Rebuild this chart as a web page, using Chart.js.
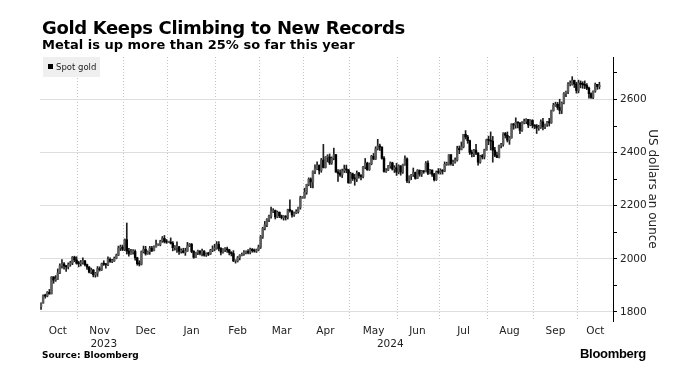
<!DOCTYPE html>
<html>
<head>
<meta charset="utf-8">
<script src="https://cdn.jsdelivr.net/npm/chart.js@4.4.1/dist/chart.umd.min.js"></script>
<style>
  html, body { margin: 0; padding: 0; background: #fff; }
  #wrap { position: relative; width: 687px; height: 379px; font-family: 'DejaVu Sans', sans-serif; color: #000; }
  #wrap canvas { position: absolute; left: 0; top: 0; }
  .title { position: absolute; left: 42px; top: 17px; font-size: 18px; line-height: 22px; font-weight: bold; letter-spacing: -0.35px; white-space: nowrap; }
  .subtitle { position: absolute; left: 42px; top: 37px; font-size: 13px; line-height: 16px; font-weight: bold; white-space: nowrap; }
  .legend { position: absolute; left: 43px; top: 57px; width: 57px; height: 20px; background: #efefef; font-size: 8.5px; line-height: 20px; color: #222; white-space: nowrap; }
  .legend .sw { display: inline-block; width: 5px; height: 5px; background: #000; margin: 0 3px 0 5px; vertical-align: middle; position: relative; top: -1px; }
  .source { position: absolute; left: 42px; top: 350px; font-size: 9px; line-height: 11px; font-weight: bold; }
  .brand { position: absolute; left: 580px; top: 346px; font-family: 'Liberation Sans', Arial, sans-serif; font-size: 13px; line-height: 15px; font-weight: bold; letter-spacing: -0.3px; }
</style>
</head>
<body>
<div id="wrap">
  <canvas id="chart" width="687" height="379"></canvas>
  <div class="title">Gold Keeps Climbing to New Records</div>
  <div class="subtitle">Metal is up more than 25% so far this year</div>
  <div class="legend"><span class="sw"></span>Spot gold</div>
  <div class="source">Source: Bloomberg</div>
  <div class="brand">Bloomberg</div>
</div>
<script>
// daily spot gold candles, one per weekday from 6 Oct 2023 to 15 Oct 2024 (USD/oz)
const firstDay = [2023, 9, 6];   // year, month (0-based), day
const axisSlots = 274;           // weekday slots on the axis, incl. a short empty margin on the right
const monthNames = ['Jan', 'Feb', 'Mar', 'Apr', 'May', 'Jun', 'Jul', 'Aug', 'Sep', 'Oct', 'Nov', 'Dec'];
const yTicks = [1800, 1900, 2000, 2100, 2200, 2300, 2400, 2500, 2600, 2700];

const opens = [
  1820,1833,1861,1860,1874,1868,1932,1920,1923,1947,1974,1981,1973,1970,1979,1985,2006,1996,
  1983,1982,1986,1992,1978,1969,1950,1958,1940,1946,1963,1959,1981,1980,1978,1998,1990,1992,2002,2014,2041,2044,
  2036,2072,2029,2019,2026,2028,2004,1982,1980,2027,2036,2019,2027,2040,2031,2045,2053,2053,2067,2077,2065,
  2063,2063,2059,2042,2043,2045,2028,2030,2024,2029,2049,2055,2028,2006,2023,2029,2021,2029,2014,2020,2018,2032,2037,
  2039,2054,2039,2025,2035,2035,2034,2024,2020,1992,1992,2004,2013,2017,2025,2025,2024,2036,2031,2029,2034,
  2044,2083,2114,2128,2148,2160,2179,2182,2158,2175,2162,2155,2160,2157,2186,2181,2165,2172,2178,2194,2230,
  2230,2251,2280,2300,2290,2330,2339,2352,2333,2372,2344,2383,2383,2361,2379,2392,2327,2322,2316,2332,2337,2335,
  2286,2320,2303,2301,2323,2314,2310,2346,2360,2336,2358,2386,2376,2414,2425,2421,2379,2329,2334,2350,2361,2338,2343,
  2327,2350,2327,2355,2376,2294,2311,2316,2325,2303,2333,2319,2330,2328,2360,2322,2334,2319,2298,2327,
  2326,2332,2330,2356,2356,2392,2359,2364,2372,2415,2411,2422,2469,2459,2445,2401,2396,2409,2398,2364,2387,2384,2410,
  2448,2446,2443,2409,2390,2382,2427,2431,2472,2465,2447,2456,2507,2504,2514,2512,2484,2512,2518,2525,2504,2521,
  2503,2500,2493,2495,2516,2497,2506,2516,2512,2558,2578,2582,2570,2559,2587,2622,2629,2657,2657,2672,2658,
  2634,2662,2657,2656,2653,2643,2622,2608,2631,2657,2649
];
const highs = [
  1834,1865,1867,1877,1885,1933,1933,1937,1962,1981,1997,1986,1976,1985,1991,2009,2010,2008,
  1991,1994,2004,1994,1980,1971,1965,1960,1949,1971,1970,1984,1993,1982,2008,2004,1998,2007,2018,2048,2052,2052,
  2075,2135,2040,2036,2035,2034,2006,1993,2030,2048,2047,2030,2047,2047,2049,2071,2056,2070,2084,2088,2073,
  2064,2079,2065,2050,2064,2047,2038,2040,2040,2062,2058,2058,2031,2025,2033,2031,2037,2031,2023,2025,2036,2049,2055,
  2065,2065,2042,2039,2042,2044,2036,2027,2031,1996,2009,2016,2022,2031,2030,2035,2041,2039,2037,2037,2052,
  2088,2119,2141,2152,2165,2195,2189,2184,2180,2177,2165,2163,2163,2187,2222,2182,2176,2185,2195,2236,2234,
  2266,2281,2305,2305,2331,2354,2365,2354,2378,2431,2385,2392,2395,2384,2417,2394,2336,2335,2338,2353,2353,2337,
  2326,2323,2318,2331,2326,2317,2348,2378,2364,2361,2390,2397,2422,2450,2432,2422,2385,2340,2352,2365,2364,2351,2360,
  2354,2351,2357,2388,2380,2313,2318,2342,2327,2336,2335,2333,2332,2366,2369,2337,2335,2322,2331,2340,
  2339,2336,2365,2364,2393,2393,2372,2380,2424,2425,2440,2469,2483,2465,2447,2410,2412,2431,2400,2390,2393,2413,2451,
  2462,2478,2461,2420,2402,2428,2435,2475,2476,2478,2461,2509,2510,2531,2515,2513,2517,2526,2528,2525,2524,2524,
  2505,2506,2503,2523,2529,2507,2518,2529,2560,2586,2590,2589,2601,2591,2626,2632,2664,2670,2686,2673,2665,
  2673,2670,2667,2670,2660,2647,2625,2633,2662,2657,2665
];
const lows = [
  1810,1833,1852,1857,1867,1868,1908,1915,1922,1944,1965,1961,1953,1962,1972,1978,1989,1980,
  1970,1973,1980,1973,1960,1947,1944,1932,1931,1934,1954,1956,1975,1965,1974,1987,1986,1990,2000,2012,2031,2031,
  2031,2018,2010,2017,2018,1995,1976,1973,1977,2022,2014,2017,2017,2027,2030,2044,2051,2049,2062,2060,2058,
  2062,2056,2030,2033,2024,2017,2021,2022,2013,2028,2046,2023,2002,2005,2016,2015,2011,2010,2009,2012,2016,2027,2030,
  2036,2030,2015,2021,2027,2024,2015,2011,1990,1984,1988,1996,2011,2013,2019,2019,2019,2025,2025,2024,2030,
  2039,2077,2109,2121,2140,2153,2174,2150,2155,2155,2150,2146,2146,2150,2176,2157,2160,2170,2172,2187,2228,
  2228,2243,2275,2268,2267,2321,2336,2319,2326,2342,2342,2365,2355,2356,2373,2325,2292,2310,2306,2325,2324,2285,
  2285,2295,2277,2291,2304,2297,2305,2339,2333,2333,2354,2373,2374,2410,2408,2375,2326,2325,2332,2341,2334,2325,2314,
  2320,2315,2322,2352,2287,2286,2298,2310,2300,2302,2311,2310,2322,2327,2317,2320,2310,2293,2295,2320,
  2319,2319,2328,2352,2353,2353,2351,2360,2368,2396,2410,2418,2451,2435,2393,2384,2385,2392,2353,2360,2376,2376,2409,
  2430,2410,2364,2385,2381,2380,2418,2424,2455,2440,2431,2454,2488,2492,2493,2471,2480,2508,2509,2494,2501,2493,
  2490,2472,2484,2491,2485,2490,2499,2500,2510,2556,2574,2562,2546,2547,2583,2611,2622,2651,2654,2645,2624,
  2625,2644,2642,2641,2637,2605,2604,2603,2627,2638,2640
];
const closes = [
  1833,1861,1860,1874,1868,1932,1920,1923,1947,1974,1981,1973,1970,1979,1985,2006,1996,1983,
  1982,1986,1992,1978,1969,1950,1958,1940,1946,1963,1959,1981,1980,1978,1998,1990,1992,2002,2014,2041,2044,2036,
  2072,2029,2019,2026,2028,2004,1982,1980,2027,2036,2019,2027,2040,2031,2045,2053,2053,2067,2077,2065,2063,
  2063,2059,2042,2043,2045,2028,2030,2024,2029,2049,2055,2028,2006,2023,2029,2021,2029,2014,2020,2018,2032,2037,2039,
  2054,2039,2025,2035,2035,2034,2024,2020,1992,1992,2004,2013,2017,2025,2025,2024,2036,2031,2029,2034,2044,
  2083,2114,2128,2148,2160,2179,2182,2158,2175,2162,2155,2160,2157,2186,2181,2165,2172,2178,2194,2230,2230,
  2251,2280,2300,2290,2330,2339,2352,2333,2372,2344,2383,2383,2361,2379,2392,2327,2322,2316,2332,2337,2335,2286,
  2320,2303,2301,2323,2314,2310,2346,2360,2336,2358,2386,2376,2414,2425,2421,2379,2329,2334,2350,2361,2338,2343,2327,
  2350,2327,2355,2376,2294,2311,2316,2325,2303,2333,2319,2330,2328,2360,2322,2334,2319,2298,2327,2326,
  2332,2330,2356,2356,2392,2359,2364,2372,2415,2411,2422,2469,2459,2445,2401,2396,2409,2398,2364,2387,2384,2410,2448,
  2446,2443,2409,2390,2382,2427,2431,2472,2465,2447,2456,2507,2504,2514,2512,2484,2512,2518,2525,2504,2521,2503,
  2500,2493,2495,2516,2497,2506,2516,2512,2558,2578,2582,2570,2559,2587,2622,2629,2657,2657,2672,2658,2634,
  2662,2657,2656,2653,2643,2622,2608,2631,2657,2649,2652
];

if (opens.length !== closes.length || highs.length !== closes.length || lows.length !== closes.length) {
  throw new Error('length mismatch ' + [opens.length, highs.length, lows.length, closes.length].join(','));
}

// weekday calendar for the x axis
const days = [];
const d = new Date(Date.UTC(firstDay[0], firstDay[1], firstDay[2]));
while (days.length < axisSlots) {
  const wd = d.getUTCDay();
  if (wd !== 0 && wd !== 6) days.push(new Date(d));
  d.setUTCDate(d.getUTCDate() + 1);
}
const labels = days.map(x => x.toISOString().slice(0, 10));

// month boundaries (for grid lines), month and year labels centred in their span
const monthStarts = new Set();
const monthSpan = {}, yearSpan = {};
days.forEach((x, i) => {
  const m = x.getUTCFullYear() + '-' + x.getUTCMonth();
  const y = x.getUTCFullYear();
  if (!(m in monthSpan)) { monthSpan[m] = [i, i]; if (i > 0) monthStarts.add(i); }
  monthSpan[m][1] = i;
  if (!(y in yearSpan)) yearSpan[y] = [i, i];
  yearSpan[y][1] = i;
});
const tickText = {};
Object.keys(monthSpan).forEach(k => {
  const [a, b] = monthSpan[k];
  tickText[Math.floor((a + b) / 2)] = [monthNames[+k.split('-')[1]]];
});
Object.keys(yearSpan).forEach(k => {
  const [a, b] = yearSpan[k];
  const idx = Math.floor((a + b) / 2);
  tickText[idx] = [(tickText[idx] || [''])[0], k];
});

const upColor = '#5e5e5e';
const downColor = '#000000';
const bodies = closes.map((c, i) => [opens[i], c]);
const bodyColors = closes.map((c, i) => c >= opens[i] ? upColor : downColor);
const ranges = lows.map((l, i) => [l, highs[i]]);

Chart.defaults.font.family = "'DejaVu Sans', sans-serif";

new Chart(document.getElementById('chart'), {
  type: 'bar',
  data: {
    labels,
    datasets: [{
      label: 'Spot gold',
      data: bodies,
      backgroundColor: bodyColors,
      barThickness: 1.8,
      minBarLength: 1,
      grouped: false
    }, {
      label: 'Spot gold range',
      data: ranges,
      backgroundColor: '#1e1e1e',
      barThickness: 1,
      grouped: false
    }]
  },
  options: {
    responsive: false,
    animation: false,
    events: [],
    layout: { padding: { top: 57, left: 40, right: 0, bottom: 28 } },
    plugins: {
      legend: { display: false },
      tooltip: { enabled: false }
    },
    scales: {
      x: {
        type: 'category',
        offset: true,
        grid: {
          offset: true,
          drawTicks: false,
          color: ctx => monthStarts.has(ctx.index) ? '#c4c4c4' : 'rgba(0,0,0,0)'
        },
        border: { display: false, dash: [1, 2] },
        ticks: {
          autoSkip: false,
          maxRotation: 0,
          minRotation: 0,
          padding: 4,
          color: '#222',
          font: { size: 10.5 },
          callback: (v, i) => tickText[i] || ''
        },
        afterFit: s => { s.height = 30; }
      },
      y: {
        position: 'right',
        min: 1766,
        max: 2760,
        afterBuildTicks: s => { s.ticks = yTicks.map(v => ({ value: v })); },
        ticks: {
          autoSkip: false,
          padding: 3,
          color: '#222',
          font: { size: 10.5 },
          callback: v => v % 200 === 0 ? String(v) : ''
        },
        grid: {
          color: ctx => ctx.tick && ctx.tick.value % 200 === 0 ? '#dedede' : 'rgba(0,0,0,0)',
          tickColor: '#000',
          tickLength: 4
        },
        border: { display: true, color: '#000', width: 1 },
        title: {
          display: true,
          text: 'US dollars an ounce',
          color: '#222',
          font: { size: 12 },
          padding: { top: 28, bottom: 0 }
        },
        afterFit: s => { s.width = 74; }
      }
    }
  }
});
</script>
</body>
</html>
